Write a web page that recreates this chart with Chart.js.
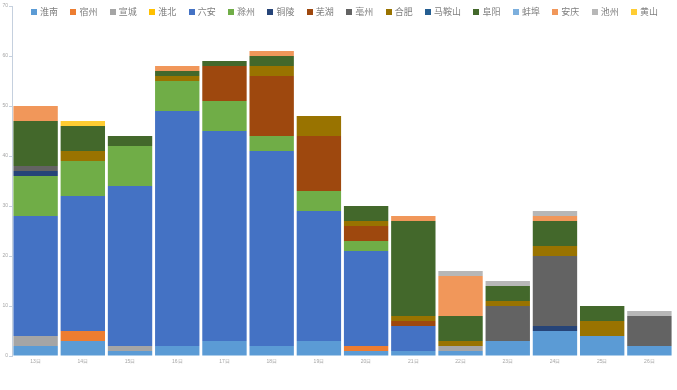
<!DOCTYPE html>
<html>
<head>
<meta charset="utf-8">
<script src="https://cdn.jsdelivr.net/npm/chart.js@4.4.0/dist/chart.umd.min.js"></script>
<style>
  html, body { margin: 0; padding: 0; background: #fff; }
  #wrap { position: relative; width: 677px; height: 390px; }
  #legend {
    position: absolute; left: 31px; top: 6px;
    display: flex; align-items: center;
    font-family: "Noto Sans CJK SC", sans-serif; font-size: 9px; color: #808080;
  }
  #legend .item { display: flex; align-items: center; margin-right: 12.4px; line-height: 12px; }
  #legend .box { width: 6px; height: 6px; margin-right: 3px; }
</style>
</head>
<body>
<div id="wrap">
  <canvas id="chart" width="677" height="390"></canvas>
  <div id="legend"></div>
</div>
<script>
// 日期
const days = ['13日', '14日', '15日', '16日', '17日', '18日', '19日', '20日', '21日', '22日', '23日', '24日', '25日', '26日'];

// 各城市每日数值
const huainan  = [2, 3, 1, 2, 3, 2, 3, 1, 1, 1, 3, 5, 4, 2];
const suzhou   = [0, 2, 0, 0, 0, 0, 0, 1, 0, 0, 0, 0, 0, 0];
const xuancheng= [2, 0, 1, 0, 0, 0, 0, 0, 0, 1, 0, 0, 0, 0];
const huaibei  = [0, 0, 0, 0, 0, 0, 0, 0, 0, 0, 0, 0, 0, 0];
const luan     = [24, 27, 32, 47, 42, 39, 26, 19, 5, 0, 0, 0, 0, 0];
const chuzhou  = [8, 7, 8, 6, 6, 3, 4, 2, 0, 0, 0, 0, 0, 0];
const tongling = [1, 0, 0, 0, 0, 0, 0, 0, 0, 0, 0, 1, 0, 0];
const wuhu     = [0, 0, 0, 0, 7, 12, 11, 3, 1, 0, 0, 0, 0, 0];
const bozhou   = [1, 0, 0, 0, 0, 0, 0, 0, 0, 0, 7, 14, 0, 6];
const hefei    = [0, 2, 0, 1, 0, 2, 4, 1, 1, 1, 1, 2, 3, 0];
const maanshan = [0, 0, 0, 0, 0, 0, 0, 0, 0, 0, 0, 0, 0, 0];
const fuyang   = [9, 5, 2, 1, 1, 2, 0, 3, 19, 5, 3, 5, 3, 0];
const bengbu   = [0, 0, 0, 0, 0, 0, 0, 0, 0, 0, 0, 0, 0, 0];
const anqing   = [3, 0, 0, 1, 0, 1, 0, 0, 1, 8, 0, 1, 0, 0];
const chizhou  = [0, 0, 0, 0, 0, 0, 0, 0, 0, 1, 1, 1, 0, 1];
const huangshan= [0, 1, 0, 0, 0, 0, 0, 0, 0, 0, 0, 0, 0, 0];

// 坐标轴刻度
const yTicks = [0, 10, 20, 30, 40, 50, 60, 70];

const seriesNames = ['淮南', '宿州', '宣城', '淮北', '六安', '滁州', '铜陵', '芜湖', '亳州', '合肥', '马鞍山', '阜阳', '蚌埠', '安庆', '池州', '黄山'];
const seriesData = [huainan, suzhou, xuancheng, huaibei, luan, chuzhou, tongling, wuhu, bozhou, hefei, maanshan, fuyang, bengbu, anqing, chizhou, huangshan];
const seriesColors = ['#5B9BD5', '#ED7D31', '#A5A5A5', '#FFC000', '#4472C4', '#70AD47', '#264478', '#9E480E',
                      '#636363', '#997300', '#255E91', '#43682B', '#7CAFDD', '#F1975A', '#B7B7B7', '#FFCD33'];

const datasets = seriesNames.map((name, i) => ({
    label: name,
    data: seriesData[i],
    backgroundColor: seriesColors[i],
    borderWidth: 0,
    categoryPercentage: 1.0,
    barPercentage: 0.94
}));

new Chart(document.getElementById('chart'), {
    type: 'bar',
    data: { labels: days, datasets: datasets },
    options: {
        responsive: false,
        animation: false,
        layout: { padding: { top: 6, right: 4, left: 0, bottom: 0 } },
        plugins: {
            legend: { display: false },
            tooltip: { enabled: false }
        },
        scales: {
            x: {
                stacked: true,
                grid: { display: false, drawTicks: false },
                border: { display: false },
                ticks: { color: '#a6a6a6', font: { size: 5 }, padding: 3, maxRotation: 0 },
                afterFit: scale => { scale.height = 34; }
            },
            y: {
                stacked: true,
                min: yTicks[0],
                max: yTicks[yTicks.length - 1],
                grid: { drawOnChartArea: false, tickLength: 3, color: '#c5d0de' },
                border: { color: '#c5d0de', width: 1 },
                ticks: { stepSize: 10, color: '#a6a6a6', font: { size: 5 }, padding: 1 },
                afterFit: scale => { scale.width = 12; }
            }
        }
    }
});

// 自定义图例（覆盖在绘图区上方）
const legendBox = document.getElementById('legend');
seriesNames.forEach((name, i) => {
    const item = document.createElement('div');
    item.className = 'item';
    item.innerHTML = `<span class="box" style="background:${seriesColors[i]}"></span><span>${name}</span>`;
    legendBox.appendChild(item);
});
</script>
</body>
</html>
